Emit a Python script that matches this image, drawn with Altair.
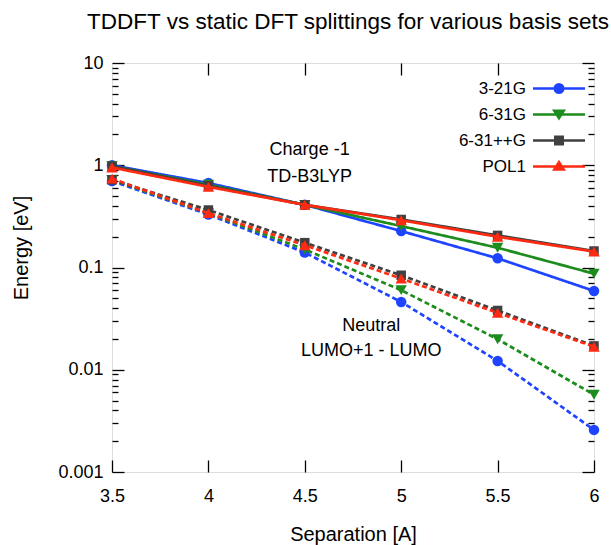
import altair as alt
import pandas as pd

# ---------------- data ----------------
separation = [3.5, 4.0, 4.5, 5.0, 5.5, 6.0]
basis_sets = ["3-21G", "6-31G", "6-31++G", "POL1"]
colors = ["#1f44ff", "#1c8c1c", "#404040", "#ff2a12"]
shapes = ["circle", "triangle-down", "square", "triangle-up"]
marker_sizes = [110, 130, 90, 130]

# Charge -1, TD-B3LYP (solid)
tddft_321g = [1.00, 0.67, 0.41, 0.227, 0.123, 0.059]
tddft_631g = [0.98, 0.645, 0.41, 0.254, 0.156, 0.087]
tddft_631ppg = [0.98, 0.63, 0.41, 0.295, 0.206, 0.145]
tddft_pol1 = [0.95, 0.615, 0.41, 0.29, 0.20, 0.143]

# Neutral, LUMO+1 - LUMO (dashed)
dft_321g = [0.70, 0.33, 0.14, 0.046, 0.0122, 0.00258]
dft_631g = [0.72, 0.34, 0.15, 0.060, 0.0199, 0.0057]
dft_631ppg = [0.72, 0.365, 0.175, 0.084, 0.038, 0.0171]
dft_pol1 = [0.74, 0.34, 0.165, 0.078, 0.036, 0.0168]

ann_x = [4.525, 4.525, 4.845, 4.845]
ann_y = [1.42, 0.776, 0.0267, 0.0152]
ann_text = ["Charge -1", "TD-B3LYP", "Neutral", "LUMO+1 - LUMO"]

tddft = [tddft_321g, tddft_631g, tddft_631ppg, tddft_pol1]
dft = [dft_321g, dft_631g, dft_631ppg, dft_pol1]

rows = []
for s, tv, dv in zip(basis_sets, tddft, dft):
    for x, v in zip(separation, tv):
        rows.append({"sep": x, "energy": v, "series": s, "kind": "TDDFT"})
    for x, v in zip(separation, dv):
        rows.append({"sep": x, "energy": v, "series": s, "kind": "DFT"})
df = pd.DataFrame(rows)
ann = pd.DataFrame({"sep": ann_x, "energy": ann_y, "text": ann_text})

F = "Liberation Sans"

# ---------------- axes ----------------
xscale = alt.Scale(domain=[3.5, 6], nice=False, zero=False)
yscale = alt.Scale(type="log", domain=[0.001, 10], nice=False)
decades = [0.001, 0.01, 0.1, 1, 10]
minor = [round(k * 10 ** e, 6) for e in range(-3, 1) for k in range(2, 10)]

common = dict(domain=False, grid=False, tickColor="black", tickWidth=1.3, labelFlush=False)
x_bottom = alt.Axis(orient="bottom", values=separation, format="~g", tickSize=12, offset=-12,
                    labelPadding=15, labelFontSize=18, labelFont=F, labelColor="black",
                    title="Separation [A]", titleFontSize=20, titleFont=F,
                    titleFontWeight="normal", titleColor="black", titlePadding=19, **common)
x_top = alt.Axis(orient="top", values=separation[1:-1], tickSize=12, offset=-12,
                 labels=False, title=None, **common)
y_left = alt.Axis(orient="left", values=decades, format="~g", tickSize=12, offset=-12,
                  labelPadding=9, labelFontSize=18, labelFont=F, labelColor="black",
                  title="Energy [eV]", titleFontSize=20, titleFont=F, titleFontWeight="normal",
                  titleColor="black", titlePadding=26, titleY=184.5, **common)
y_left_minor = alt.Axis(orient="left", values=minor, tickSize=6, offset=-6,
                        labels=False, title=None, **common)
y_right = alt.Axis(orient="right", values=decades, tickSize=12, offset=-12,
                   labels=False, title=None, **common)
y_right_minor = alt.Axis(orient="right", values=minor, tickSize=6, offset=-6,
                         labels=False, title=None, **common)

x_axes = [x_bottom, x_top, None, None]
y_axes = [y_left, y_left_minor, y_right, y_right_minor]

dash = alt.StrokeDash("kind:N", scale=alt.Scale(domain=["TDDFT", "DFT"], range=[[1, 0], [5, 3]]),
                      legend=None)

layers = []
k = 0
for i, s in enumerate(basis_sets):
    base = alt.Chart(df).transform_filter(alt.datum.series == s)
    xa = x_axes[k] if k < len(x_axes) else None
    ya = y_axes[k] if k < len(y_axes) else None
    k += 1
    line = base.mark_line(color=colors[i], strokeWidth=2.7, strokeCap="butt").encode(
        x=alt.X("sep:Q", scale=xscale, axis=xa),
        y=alt.Y("energy:Q", scale=yscale, axis=ya),
        strokeDash=dash,
        detail="kind:N",
    )
    pts = base.mark_point(shape=shapes[i], filled=True, size=marker_sizes[i],
                          color=colors[i], opacity=1).encode(
        x=alt.X("sep:Q", scale=xscale, axis=None),
        y=alt.Y("energy:Q", scale=yscale, axis=None),
    )
    layers += [line, pts]

text = alt.Chart(ann).mark_text(fontSize=18, font=F, color="black").encode(
    x=alt.X("sep:Q", scale=xscale, axis=None),
    y=alt.Y("energy:Q", scale=yscale, axis=None),
    text="text:N",
)
layers.append(text)

# legend: label on the left, line+marker on the right (custom symbol paths, units of 5px)
legend_paths = [
    "M3.1,0L13.5,0M9.15,0A0.85,0.85,0,1,1,7.45,0A0.85,0.85,0,1,1,9.15,0Z",
    "M3.1,0L13.5,0M7.35,-0.75L9.25,-0.75L8.3,0.75Z",
    "M3.1,0L13.5,0M7.55,-0.75L9.05,-0.75L9.05,0.75L7.55,0.75Z",
    "M3.1,0L13.5,0M7.35,0.6L9.25,0.6L8.3,-0.9Z",
]
color_expr = ""
for s, c in zip(basis_sets[:-1], colors[:-1]):
    color_expr += f"datum.value === '{s}' ? '{c}' : "
color_expr += f"'{colors[-1]}'"

legend = alt.Legend(orient="none", legendX=397, legendY=17, title=None, padding=0,
                    labelAlign="right", labelOffset=0, labelFontSize=17, labelFont=F,
                    labelColor="black", symbolSize=100, symbolStrokeWidth=2.5, rowPadding=7)
leg = alt.Chart(df).transform_filter("false").mark_point(
    filled=True, size=100, opacity=1, strokeWidth=2.5,
    color={"expr": color_expr}, stroke={"expr": color_expr},
).encode(
    x=alt.X("sep:Q", scale=xscale, axis=None),
    y=alt.Y("energy:Q", scale=yscale, axis=None),
    shape=alt.Shape("series:N", scale=alt.Scale(domain=basis_sets, range=legend_paths),
                    legend=legend),
)
layers.append(leg)

chart = alt.layer(*layers).resolve_axis(x="independent", y="independent").properties(
    width=482, height=409,
    padding={"left": 112, "top": 63, "right": 17, "bottom": 73},
    autosize=alt.AutoSizeParams(type="none"),
    title=alt.Title("TDDFT vs static DFT splittings for various basis sets", fontSize=22.5,
                    font=F, fontWeight="normal", color="black", anchor="middle", dx=-5,
                    offset=3, baseline="alphabetic"),
).configure_view(stroke="black", strokeWidth=2).configure(background="white")

chart.save("out.html", embed_options={"renderer": "svg", "actions": False})
